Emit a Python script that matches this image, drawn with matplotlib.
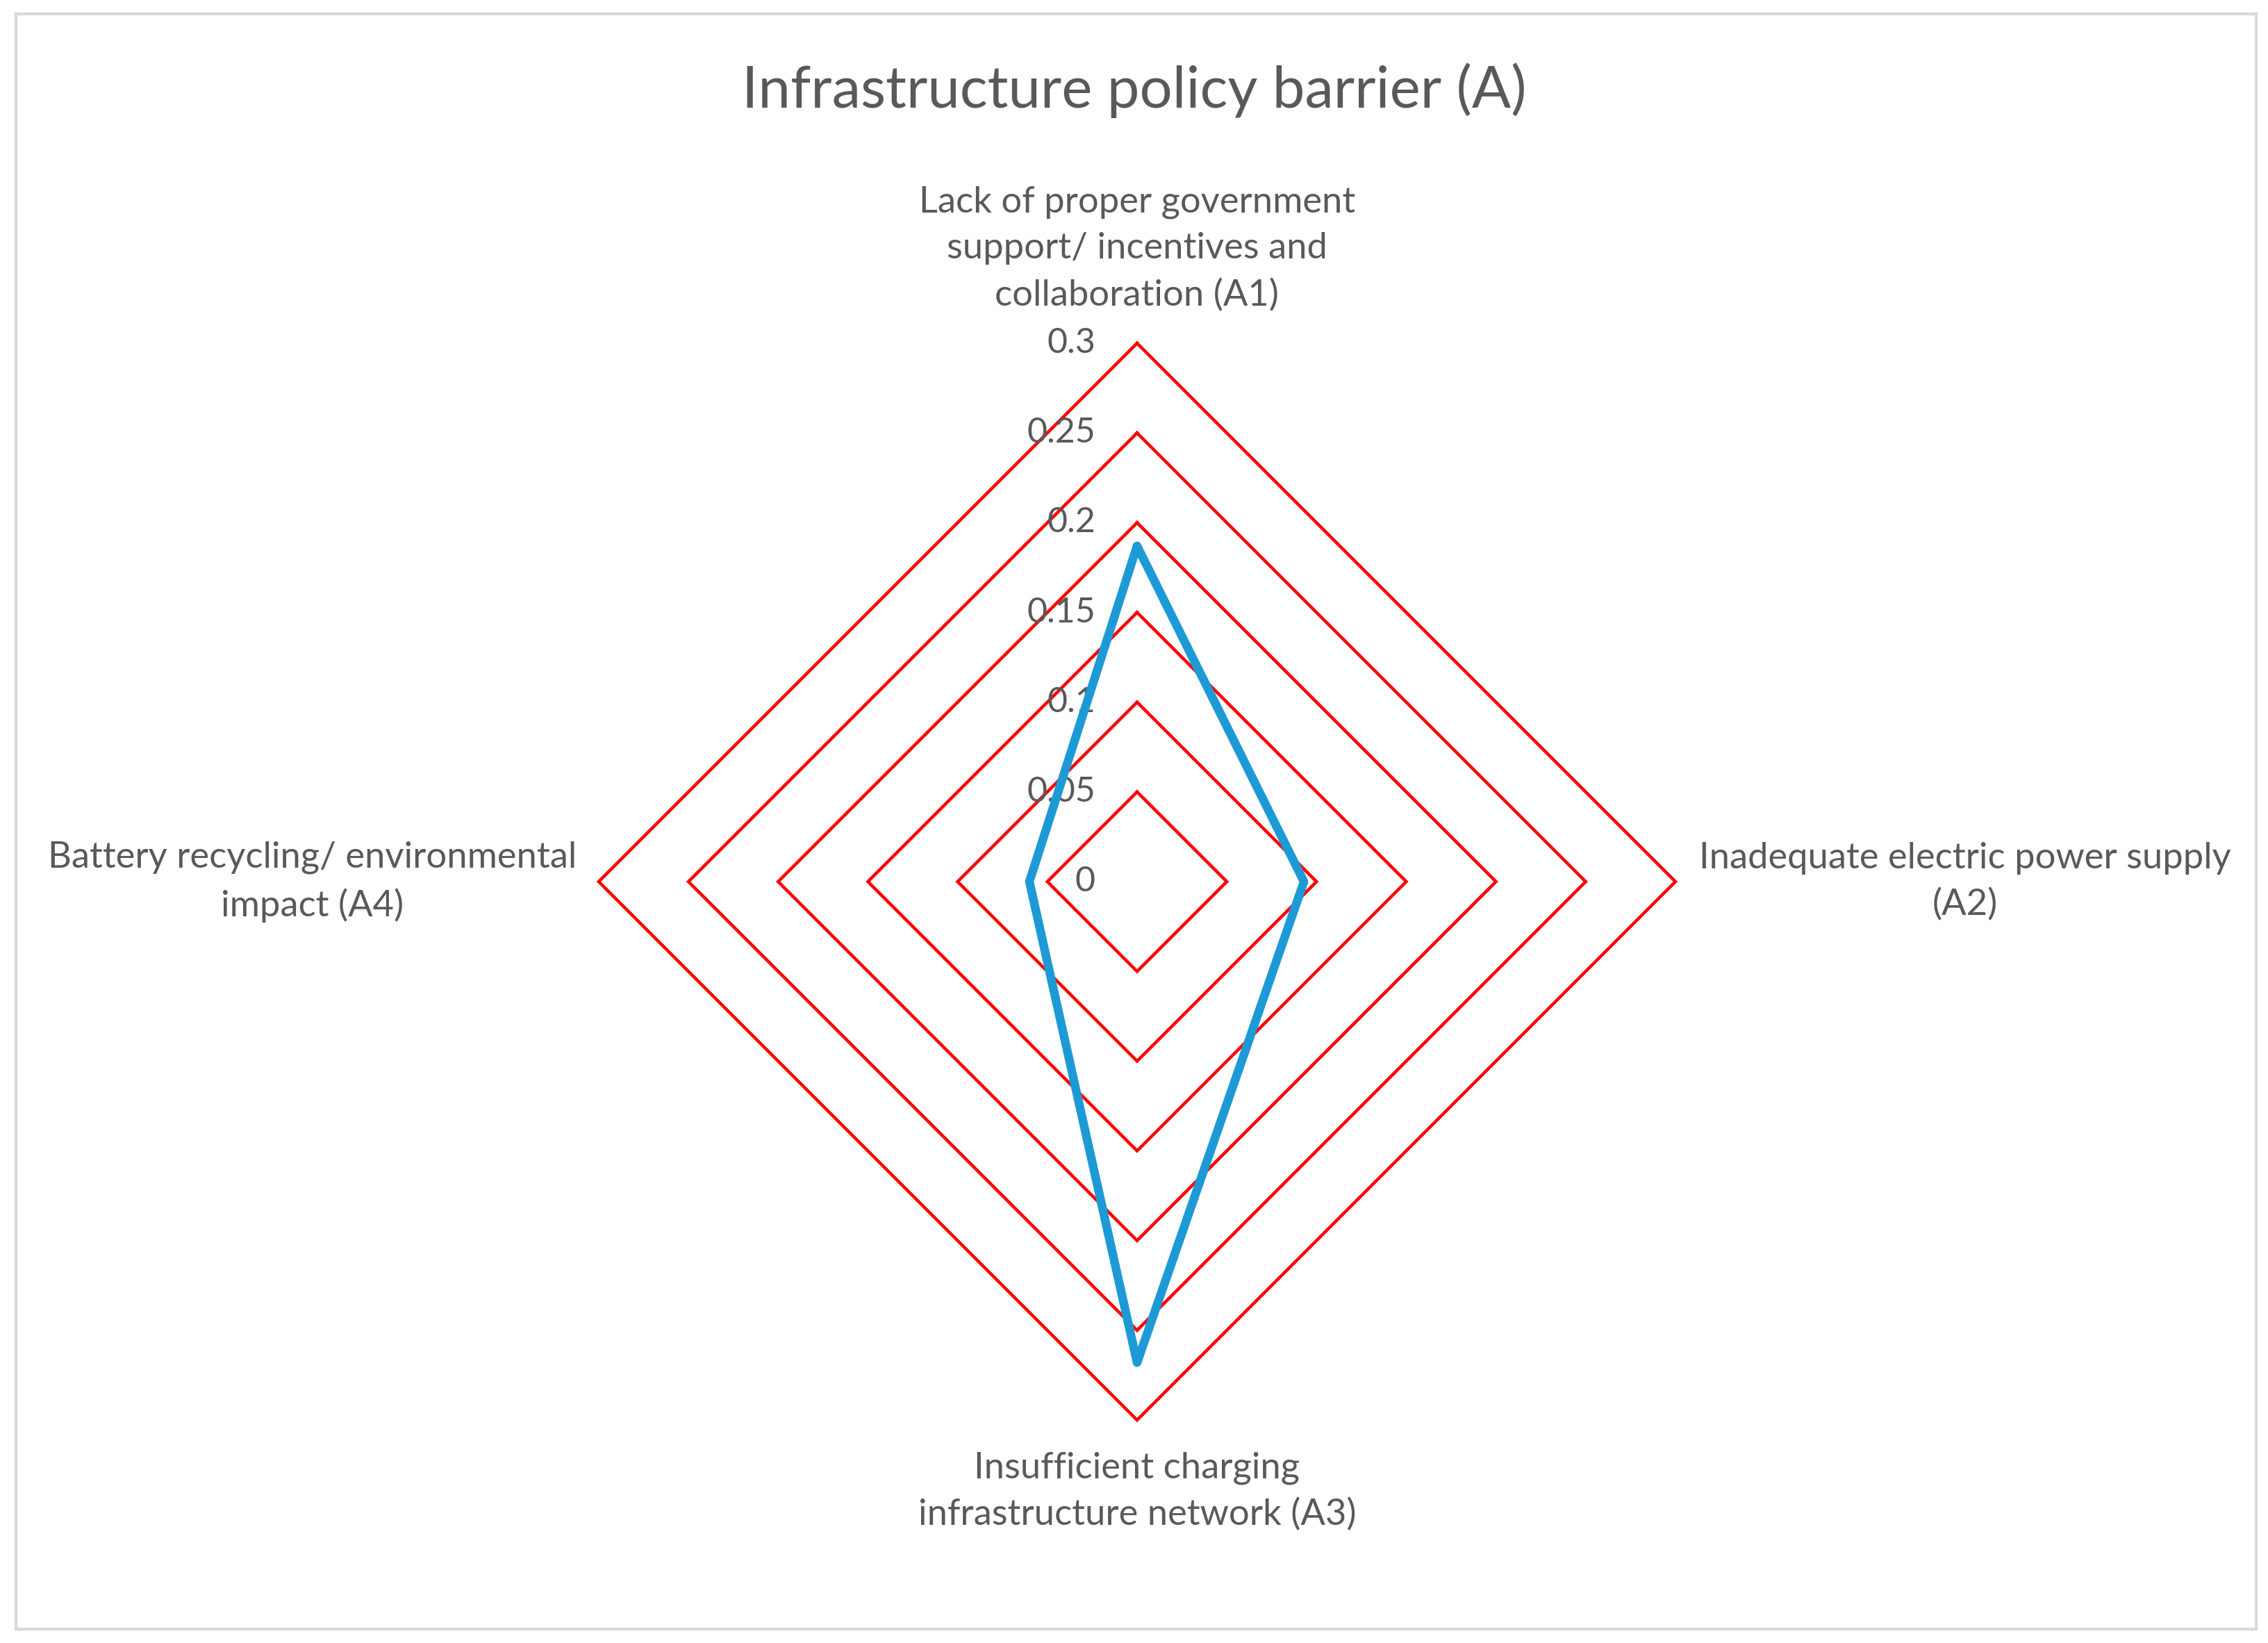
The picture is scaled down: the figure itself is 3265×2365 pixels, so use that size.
import numpy as np
import matplotlib
matplotlib.use('Agg')
import matplotlib.pyplot as plt
from matplotlib.patches import Rectangle

# data
categories = ['Lack of proper government\nsupport/ incentives and\ncollaboration (A1)',
              'Inadequate electric power supply\n(A2)',
              'Insufficient charging\ninfrastructure network (A3)',
              'Battery recycling/ environmental\nimpact (A4)']
weights = [0.187, 0.093, 0.268, 0.060]
rings = [0.05, 0.1, 0.15, 0.2, 0.25, 0.3]
tick_labels = ['0', '0.05', '0.1', '0.15', '0.2', '0.25', '0.3']

plt.rcParams['font.family'] = ['Lato', 'DejaVu Sans']
text_color = '#595959'

fig = plt.figure(figsize=(32.66, 23.65), dpi=100)
ax = fig.add_axes([0.2639, 0.1357, 0.4746, 0.6554], projection='polar')
ax.set_theta_offset(np.pi / 2)
ax.set_theta_direction(-1)
ax.set_ylim(0, 0.3)
ax.grid(False)
ax.spines['polar'].set_visible(False)
ax.set_xticks([])
ax.set_yticks([])
ax.patch.set_alpha(0)

n = len(categories)
angles = np.linspace(0, 2 * np.pi, n, endpoint=False)
closed = np.append(angles, angles[0])

# diamond gridlines
for r in rings:
    ax.plot(closed, [r] * (n + 1), color='#ff0000', lw=3.3, zorder=1,
            clip_on=False, solid_joinstyle='miter')

# series
vals = weights + weights[:1]
ax.plot(closed, vals, color='#1d9ad6', lw=9, zorder=3, clip_on=False,
        solid_joinstyle='round', solid_capstyle='round')

# radial tick labels
for r, lab in zip([0] + rings, tick_labels):
    ax.annotate(lab, xy=(0, r), xytext=(-60, 0), textcoords='offset pixels',
                ha='right', va='center', fontsize=36, color=text_color,
                annotation_clip=False, zorder=2)

# category labels
offsets = [(0, 45), (417, 0), (0, -45), (-412, 0)]
aligns = [('center', 'bottom'), ('center', 'center'), ('center', 'top'), ('center', 'center')]
for ang, lab, off, (ha, va) in zip(angles, categories, offsets, aligns):
    ax.annotate(lab, xy=(ang, 0.3), xytext=off, textcoords='offset pixels',
                ha=ha, va=va, multialignment='center', fontsize=37.8,
                color=text_color, linespacing=1.5, annotation_clip=False)

fig.text(0.5, 0.945, 'Infrastructure policy barrier (A)', ha='center', va='center',
         fontsize=60, color=text_color)

# chart area border
fig.patches.append(Rectangle((23 / 3266, 20 / 2365), 3225 / 3266, 2325 / 2365,
                             transform=fig.transFigure, fill=False,
                             edgecolor='#d9d9d9', lw=3))

fig.savefig('out.png', dpi=100)
